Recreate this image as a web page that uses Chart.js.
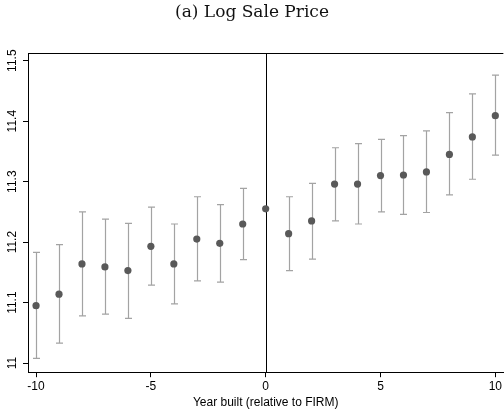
<!DOCTYPE html>
<html>
<head>
<meta charset="utf-8">
<script src="https://cdn.jsdelivr.net/npm/chart.js@4.4.1/dist/chart.umd.min.js"></script>
<style>
  html, body { margin: 0; padding: 0; background: #fff; overflow: hidden; }
  #wrap { width: 504px; height: 411px; position: relative; }
</style>
</head>
<body>
<div id="wrap"><canvas id="chart"></canvas></div>
<script>
// Event-study estimates: year built relative to FIRM
const years    = [-10, -9, -8, -7, -6, -5, -4, -3, -2, -1, 0, 1, 2, 3, 4, 5, 6, 7, 8, 9, 10];
const estimate = [11.095, 11.114, 11.164, 11.159, 11.153, 11.193, 11.164, 11.205, 11.198, 11.230, 11.255,
                  11.214, 11.235, 11.296, 11.296, 11.310, 11.311, 11.316, 11.345, 11.374, 11.409];
const ciLow    = [11.008, 11.033, 11.078, 11.081, 11.074, 11.129, 11.098, 11.136, 11.134, 11.171, null,
                  11.153, 11.172, 11.235, 11.230, 11.250, 11.246, 11.249, 11.278, 11.304, 11.344];
const ciHigh   = [11.183, 11.196, 11.250, 11.238, 11.231, 11.258, 11.230, 11.275, 11.262, 11.289, null,
                  11.275, 11.297, 11.356, 11.363, 11.370, 11.376, 11.384, 11.414, 11.445, 11.476];
const xTicks = [-10, -5, 0, 5, 10];
const yTicks = [11, 11.1, 11.2, 11.3, 11.4, 11.5];

const SANS = '"Liberation Sans", Arial, sans-serif';

// confidence intervals, the x = 0 reference line, the top frame and rotated y labels
const decorations = {
  id: 'decorations',
  beforeDatasetsDraw(chart) {
    const { ctx, chartArea, scales: { x, y } } = chart;
    ctx.save();
    // vertical line at 0
    ctx.strokeStyle = '#000';
    ctx.lineWidth = 1;
    const x0 = Math.round(x.getPixelForValue(0)) + 0.5;
    ctx.beginPath();
    ctx.moveTo(x0, chartArea.top);
    ctx.lineTo(x0, chartArea.bottom);
    ctx.stroke();
    // top frame
    ctx.beginPath();
    ctx.moveTo(chartArea.left, Math.round(chartArea.top) + 0.5);
    ctx.lineTo(chartArea.right, Math.round(chartArea.top) + 0.5);
    ctx.stroke();
    // error bars with caps
    ctx.strokeStyle = '#a3a3a3';
    ctx.lineWidth = 1.2;
    years.forEach((yr, i) => {
      if (ciLow[i] == null) return;
      const px = Math.round(x.getPixelForValue(yr)) + 0.5;
      const lo = y.getPixelForValue(ciLow[i]);
      const hi = y.getPixelForValue(ciHigh[i]);
      ctx.beginPath();
      ctx.moveTo(px, lo); ctx.lineTo(px, hi);
      ctx.moveTo(px - 3.5, lo); ctx.lineTo(px + 3.5, lo);
      ctx.moveTo(px - 3.5, hi); ctx.lineTo(px + 3.5, hi);
      ctx.stroke();
    });
    ctx.restore();
  },
  afterDraw(chart) {
    const { ctx, scales: { y } } = chart;
    ctx.save();
    ctx.fillStyle = '#000';
    ctx.font = '12px ' + SANS;
    ctx.textAlign = 'center';
    ctx.textBaseline = 'middle';
    yTicks.forEach(v => {
      ctx.save();
      ctx.translate(13, y.getPixelForValue(v));
      ctx.rotate(-Math.PI / 2);
      ctx.fillText(v === 11 ? '11' : v.toFixed(1), 0, 0);
      ctx.restore();
    });
    ctx.restore();
  }
};

new Chart(document.getElementById('chart'), {
  type: 'scatter',
  data: {
    datasets: [{
      data: years.map((yr, i) => ({ x: yr, y: estimate[i] })),
      pointRadius: 3.6,
      pointBackgroundColor: '#595959',
      pointBorderWidth: 0
    }]
  },
  options: {
    responsive: true,
    maintainAspectRatio: false,
    animation: false,
    layout: { autoPadding: false, padding: { left: 0, right: 0, top: 0, bottom: 0 } },
    plugins: {
      legend: { display: false },
      tooltip: { enabled: false },
      title: {
        display: true,
        text: '(a) Log Sale Price',
        color: '#111',
        font: { family: '"DejaVu Serif", "Liberation Serif", serif', size: 17, weight: 'normal' },
        padding: { top: 2, bottom: 31 }
      }
    },
    scales: {
      x: {
        type: 'linear',
        min: -10.35,
        max: 10.35,
        afterBuildTicks: s => { s.ticks = xTicks.map(v => ({ value: v })); },
        grid: { drawOnChartArea: false, tickLength: 5, tickColor: '#000' },
        border: { color: '#000', width: 1 },
        ticks: { color: '#000', font: { family: SANS, size: 12 }, padding: 2, maxRotation: 0,
                 callback: v => String(v) },
        title: { display: true, text: 'Year built (relative to FIRM)', color: '#000',
                 font: { family: SANS, size: 12 }, padding: { top: 0, bottom: 1 } }
      },
      y: {
        type: 'linear',
        min: 10.985,
        max: 11.512,
        afterBuildTicks: s => { s.ticks = yTicks.map(v => ({ value: v })); },
        afterFit: s => { s.width = 28; },
        grid: { drawOnChartArea: false, tickLength: 5, tickColor: '#000' },
        border: { color: '#000', width: 1 },
        ticks: { display: false }
      }
    }
  },
  plugins: [decorations]
});
</script>
</body>
</html>
